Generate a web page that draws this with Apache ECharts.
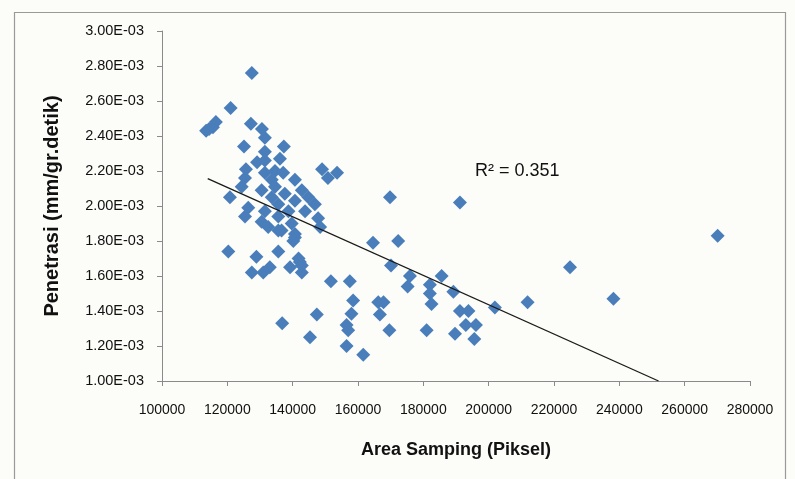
<!DOCTYPE html>
<html>
<head>
<meta charset="utf-8">
<script src="https://cdn.jsdelivr.net/npm/echarts@6/dist/echarts.min.js"></script>
<style>
html,body{margin:0;padding:0;background:#fcfcf8;}
#chart{width:795px;height:479px;}
</style>
</head>
<body>
<div id="chart"></div>
<script>
// Area Samping (Piksel)
const areaSamping = [
  127500,121000,113500,115600,116500,114400,127200,130600,131500,125100,
  137300,131500,136100,129100,125700,149000,153600,150800,169800,120800,
  164600,172300,125400,131500,134600,137100,140700,133600,124400,130500,
  134600,137600,142800,144800,133600,140700,135600,146800,126400,131500,
  138700,143800,125400,130500,135600,139700,147800,148400,132500,140700,
  136600,140200,120300,128900,135600,141800,142800,139200,127500,131000,
  133000,142800,151700,157500,158500,158000,156500,157000,147400,136800,
  145300,156500,161600,191200,270100,170100,224900,175900,185600,175200,
  182000,182000,182500,189200,238200,167800,166200,166700,191200,193800,
  201900,211900,193000,196100,169600,181000,189700,195600,142200,135600,
  140700,131500
];
// Penetrasi (mm/gr.detik)
const penetrasi = [
  2.76e-3,2.56e-3,2.43e-3,2.45e-3,2.48e-3,2.44e-3,2.47e-3,2.44e-3,2.39e-3,2.34e-3,
  2.34e-3,2.31e-3,2.27e-3,2.25e-3,2.21e-3,2.21e-3,2.19e-3,2.16e-3,2.05e-3,2.05e-3,
  1.79e-3,1.80e-3,2.16e-3,2.19e-3,2.20e-3,2.19e-3,2.15e-3,2.15e-3,2.11e-3,2.09e-3,
  2.11e-3,2.07e-3,2.09e-3,2.05e-3,2.05e-3,2.03e-3,2.01e-3,2.01e-3,1.99e-3,1.97e-3,
  1.97e-3,1.97e-3,1.94e-3,1.91e-3,1.94e-3,1.90e-3,1.93e-3,1.88e-3,1.88e-3,1.84e-3,
  1.86e-3,1.80e-3,1.74e-3,1.71e-3,1.74e-3,1.70e-3,1.66e-3,1.65e-3,1.62e-3,1.62e-3,
  1.65e-3,1.62e-3,1.57e-3,1.57e-3,1.46e-3,1.385e-3,1.32e-3,1.29e-3,1.38e-3,1.33e-3,
  1.25e-3,1.20e-3,1.15e-3,2.02e-3,1.83e-3,1.66e-3,1.65e-3,1.60e-3,1.60e-3,1.54e-3,
  1.55e-3,1.50e-3,1.44e-3,1.51e-3,1.47e-3,1.45e-3,1.45e-3,1.38e-3,1.40e-3,1.40e-3,
  1.42e-3,1.45e-3,1.32e-3,1.32e-3,1.29e-3,1.29e-3,1.27e-3,1.24e-3,1.68e-3,1.86e-3,
  1.82e-3,2.26e-3
];
// Linear trendline endpoints (Excel trendline)
const trendX = [114000, 252000];
const trendY = [2.156e-3, 1.0e-3];
const rSquaredLabel = 'R² = 0.351';
const xTitle = 'Area Samping (Piksel)';
const yTitle = 'Penetrasi (mm/gr.detik)';

const scatterData = areaSamping.map((x, i) => [x, penetrasi[i]]);
const trendData = trendX.map((x, i) => [x, trendY[i]]);

function fmtExp(v) {
  const s = Number(v).toExponential(2);
  const parts = s.split('e');
  const sign = parts[1][0] === '-' ? '-' : '+';
  let e = parts[1].replace(/^[+-]/, '');
  if (e.length < 2) e = '0' + e;
  return parts[0] + 'E' + sign + e;
}
function fmtPlain(v) { return String(Math.round(v)); }

const chart = echarts.init(document.getElementById('chart'), null, {renderer: 'canvas'});
const font = "'Liberation Sans', Arial, sans-serif";
const axisColor = '#8a8a8a';
chart.setOption({
  backgroundColor: '#fcfcf8',
  animation: false,
  grid: {left: 162, right: 45, top: 31, bottom: 98},
  xAxis: {
    type: 'value', min: 100000, max: 280000, interval: 20000,
    name: xTitle, nameLocation: 'middle', nameGap: 60,
    nameTextStyle: {fontFamily: font, fontSize: 18, fontWeight: 'bold', color: '#111'},
    axisLine: {show: true, lineStyle: {color: axisColor, width: 1}},
    axisTick: {show: true, inside: false, length: 5, lineStyle: {color: axisColor}},
    axisLabel: {fontFamily: font, fontSize: 14, color: '#111', margin: 22, formatter: fmtPlain},
    splitLine: {show: false}
  },
  yAxis: {
    type: 'value', min: 0.001, max: 0.003, interval: 0.0002,
    name: yTitle, nameLocation: 'middle', nameGap: 100, nameRotate: 90,
    nameTextStyle: {fontFamily: font, fontSize: 20, fontWeight: 'bold', color: '#111'},
    axisLine: {show: true, lineStyle: {color: axisColor, width: 1}},
    axisTick: {show: true, inside: false, length: 5, lineStyle: {color: axisColor}},
    axisLabel: {fontFamily: font, fontSize: 14.5, color: '#111', margin: 18, formatter: fmtExp},
    splitLine: {show: false}
  },
  graphic: [
    {type: 'rect', left: 12, top: 10, shape: {width: 771, height: 480},
     style: {fill: 'none', stroke: '#9a9a9a', lineWidth: 1.2}, silent: true},
    {type: 'text', left: 475, top: 162,
     style: {text: rSquaredLabel, fontFamily: font, fontSize: 18, fill: '#111'}}
  ],
  series: [
    {
      type: 'scatter', data: scatterData, symbol: 'diamond', symbolSize: 14,
      itemStyle: {color: '#4a7ebb', opacity: 1},
      z: 2
    },
    {
      type: 'line', data: trendData, showSymbol: false, symbol: 'none',
      lineStyle: {color: '#1a1a1a', width: 1.3}, z: 3
    }
  ]
});
</script>
</body>
</html>
